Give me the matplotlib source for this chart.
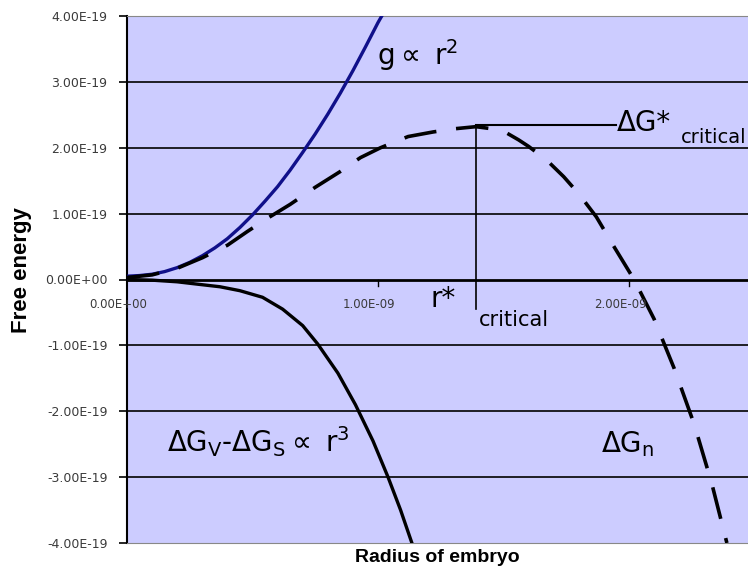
import matplotlib
matplotlib.use("Agg")
import matplotlib.pyplot as plt

# radius in units of 1E-09, energy in units of 1E-19
r_surface = [0.0, 0.05, 0.1, 0.15, 0.2, 0.25, 0.3, 0.35, 0.4, 0.45, 0.5, 0.55, 0.6,
             0.65, 0.7, 0.75, 0.8, 0.85, 0.9, 0.95, 1.0, 1.03]
g_surface = [0.05, 0.06, 0.08, 0.12, 0.18, 0.26, 0.36, 0.48, 0.62, 0.79, 0.98, 1.19, 1.41,
             1.66, 1.93, 2.21, 2.51, 2.83, 3.17, 3.53, 3.9, 4.1]

r_volume = [0.0, 0.1, 0.2, 0.29, 0.37, 0.45, 0.54, 0.62, 0.7, 0.76, 0.84, 0.91, 0.98,
            1.04, 1.09, 1.135]
g_volume = [0.0, -0.01, -0.035, -0.075, -0.11, -0.17, -0.27, -0.45, -0.7, -0.98, -1.42,
            -1.9, -2.45, -3.0, -3.5, -4.0]

r_total = [0.0, 0.1, 0.2, 0.3, 0.4, 0.48, 0.56, 0.65, 0.75, 0.85, 0.93, 1.01, 1.12, 1.22,
           1.31, 1.39, 1.45, 1.51, 1.56, 1.6, 1.67, 1.74, 1.8, 1.87, 1.94, 2.02, 2.1,
           2.18, 2.26, 2.33, 2.39]
g_total = [0.03, 0.07, 0.17, 0.33, 0.52, 0.73, 0.93, 1.14, 1.4, 1.64, 1.85, 2.0, 2.17, 2.24,
           2.29, 2.32, 2.29, 2.23, 2.12, 2.02, 1.82, 1.56, 1.3, 0.95, 0.5, 0.0, -0.6,
           -1.35, -2.2, -3.1, -4.0]

r_crit = 1.39
g_crit = 2.35

y_ticks = [-4, -3, -2, -1, 0, 1, 2, 3, 4]
y_labels = ["-4.00E-19", "-3.00E-19", "-2.00E-19", "-1.00E-19", "0.00E+00",
            "1.00E-19", "2.00E-19", "3.00E-19", "4.00E-19"]
x_ticks = [0, 1, 2]
x_labels = ["0.00E+00", "1.00E-09", "2.00E-09"]

W, H = 748, 567
fig = plt.figure(figsize=(W / 100, H / 100), dpi=100)
ax = fig.add_axes([127 / W, (H - 543) / H, (W - 127) / W, (543 - 16) / H])
ax.set_facecolor("#ccccff")
ax.set_xlim(0, (W - 127) / 251)
ax.set_ylim(-4, 4)

for y in y_ticks[1:-1]:
    ax.axhline(y, color="black", lw=2.0 if y == 0 else 1.2, zorder=1)

ax.plot(r_surface, g_surface, color="#10108a", lw=2.4, zorder=3, solid_joinstyle="round")
ax.plot(r_volume, g_volume, color="black", lw=2.4, zorder=3, solid_joinstyle="round")
ax.plot(r_total, g_total, color="black", lw=2.6, ls=(0, (9, 5.5)), zorder=3)

# critical point markers
ax.plot([r_crit, r_crit], [g_crit, -0.45], color="black", lw=1.2, zorder=2)
ax.plot([r_crit, 1.95], [g_crit, g_crit], color="black", lw=1.5, zorder=2)

ax.set_yticks(y_ticks)
ax.set_yticklabels(y_labels, fontsize=9, color="#3a3a3a")
ax.set_xticks(x_ticks)
ax.set_xticklabels([])
ax.tick_params(axis="y", direction="out", length=6, width=1.2, pad=8)
ax.xaxis.set_ticks_position("none")
ax.spines["right"].set_visible(False)
ax.spines["left"].set_linewidth(1.5)
ax.spines["top"].set_color("#888888")
ax.spines["bottom"].set_color("#888888")

# x tick labels sit under the zero line, a little left of each tick
x_label_pos = [-0.035, 0.965, 1.965]
for xp, lab in zip(x_label_pos, x_labels):
    ax.text(xp, -0.38, lab, fontsize=8.5, color="#3a3a3a", ha="center", va="center",
            zorder=4, clip_on=False)
for xp in x_ticks[1:]:
    ax.plot([xp, xp], [0, -0.1], color="black", lw=1, zorder=2)

fs = 20
sub = r"$_\mathregular{%s}$"
ax.text(0.996, 3.26, r"g$\propto$ r$^\mathregular{2}$", fontsize=fs, ha="left", va="baseline")
ax.text(1.95, 2.38, "\u0394G*", fontsize=fs, ha="left", va="center")
ax.text(2.205, 2.15, "critical", fontsize=14, ha="left", va="center")
ax.text(1.21, -0.3, "r*", fontsize=fs, ha="left", va="center")
ax.text(1.40, -0.62, "critical", fontsize=15, ha="left", va="center")
ax.text(0.16, -2.62, "\u0394G" + sub % "V" + "-\u0394G" + sub % "S" + r"$\propto$ r$^\mathregular{3}$",
        fontsize=fs, ha="left", va="baseline")
ax.text(1.89, -2.62, "\u0394G" + sub % "n", fontsize=fs, ha="left", va="baseline")

fig.text(22 / W, 1 - 270 / H, "Free energy", rotation=90, fontsize=16, fontweight="bold",
         family="Liberation Sans", ha="center", va="center")
fig.text(437 / W, 1 - 557 / H, "Radius of embryo", fontsize=14, fontweight="bold",
         family="Liberation Sans", ha="center", va="center")

fig.savefig("out.png", dpi=100)
